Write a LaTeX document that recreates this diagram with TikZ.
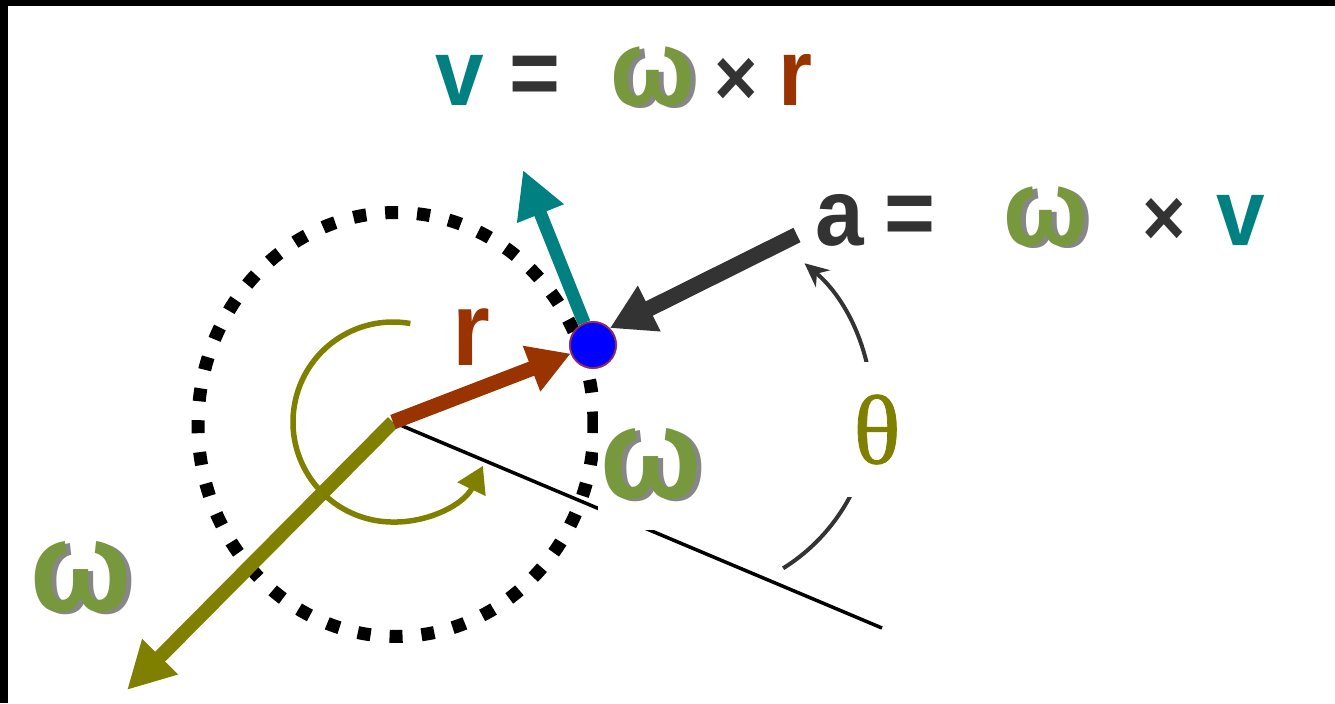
\documentclass[tikz,border=0pt]{standalone}
\usepackage{fontspec}
\setmainfont{Liberation Sans}
\newfontfamily\eqfont[FakeStretch=0.92]{Liberation Sans}
\newfontfamily\thfont[FakeBold=0.8]{Liberation Serif}
\usetikzlibrary{arrows.meta}
\definecolor{vteal}{RGB}{0,128,128}
\definecolor{rbrown}{RGB}{153,51,0}
\definecolor{olivec}{RGB}{128,128,0}
\definecolor{omgreen}{RGB}{120,152,62}
\definecolor{omshade}{RGB}{135,135,135}
\definecolor{agray}{RGB}{51,51,51}
\definecolor{dotrim}{RGB}{150,40,90}
\newcommand{\shomega}{\rlap{\kern0.05cm\raisebox{-0.02cm}{\color{omshade}ω}}{\color{omgreen}ω}}
\newcommand{\eqomega}{{\fontsize{31}{32}\selectfont\shomega}}
\newcommand{\eqtimes}{{\color{agray}\fontsize{23}{24}\selectfont×}}

\begin{document}
\begin{tikzpicture}[
  eq/.style={font=\eqfont\bfseries\fontsize{27}{30}\selectfont,inner sep=0pt,anchor=base west},
  omlab/.style={font=\eqfont\bfseries\fontsize{37}{40}\selectfont,inner sep=0pt},
  thlab/.style={font=\thfont\fontsize{28}{30}\selectfont,text=olivec,fill=white,inner sep=0pt,
    minimum width=0.7cm,minimum height=1.35cm},
  dotnode/.style={circle,fill=blue,draw=dotrim,line width=0.5pt,minimum size=0.46cm,inner sep=0pt},
  dotring/.style={line width=1.3mm,dash pattern=on 1.3mm off 1.9mm},
  vec/.style={-{Triangle[length=4.7mm,width=4.7mm]}}
]
\fill[white] (0,0) rectangle (13.35,7.03);
\useasboundingbox (0,0) rectangle (13.35,7.03);
\fill[black] (0,6.97) rectangle (13.35,7.03);
\fill[black] (0,0) rectangle (0.08,7.03);

\coordinate (ctr) at (3.93,2.81);
\coordinate (vtip) at (5.23,5.33);
\coordinate (atail) at (7.97,4.68);
\coordinate (wtip) at (1.27,0.13);
\coordinate (lineend) at (8.82,0.75);
\coordinate (thc) at (6.83,2.95);

\draw[dotring] (3.96,2.785) ellipse [x radius=1.98cm,y radius=2.12cm];
\draw[line width=1pt] (ctr) -- (lineend);
\draw[olivec,line width=0.55mm,-{Triangle[length=2.6mm,width=3mm]}]
  ([shift={(80:1cm)}]ctr) arc[start angle=80,end angle=334,radius=1cm];
\draw[vec,olivec,line width=1.4mm] (ctr) -- (wtip);
\node[dotnode] (dot) at (5.93,3.58) {};
\draw[rbrown,line width=1.5mm,-{Triangle[length=4.2mm,width=4.6mm]}] (ctr) -- (dot);
\draw[vec,vteal,line width=1.3mm] (dot) -- (vtip);
\draw[agray,line width=1.6mm,-{Triangle[length=4.4mm,width=4.8mm]}] (atail) -- (dot.north east);
\node[dotnode] at (dot) {};
\draw[agray,line width=0.4mm,-{Stealth[length=2.4mm,width=2.2mm]}]
  ([shift={(-58:1.89cm)}]thc) arc[start angle=-58,end angle=50,radius=1.89cm];

\node[eq] (veq) at (4.35,5.98) {{\color{vteal}v}\hspace{0.25cm}{\color{agray}=}\hspace{0.5cm}\eqomega\hspace{0.2cm}\eqtimes\hspace{0.2cm}{\color{rbrown}r}};
\node[eq] (aeq) at (8.15,4.58) {{\color{agray}a}\hspace{0.2cm}{\color{agray}=}\hspace{0.68cm}\eqomega\hspace{0.55cm}\eqtimes\hspace{0.3cm}{\color{vteal}v}};
\node[eq,font=\eqfont\bfseries\fontsize{30}{32}\selectfont,text=rbrown] (rlab) at (4.52,3.38) {r};
\node[omlab] (wleft) at (0.81,1.25) {\shomega};
\node[omlab,fill=white,anchor=west,inner xsep=0.03cm,minimum height=1.3cm] (wmid) at (5.97,2.38) {\shomega};
\node[thlab] (th) at (8.77,2.735) {θ};
\end{tikzpicture}
\end{document}
